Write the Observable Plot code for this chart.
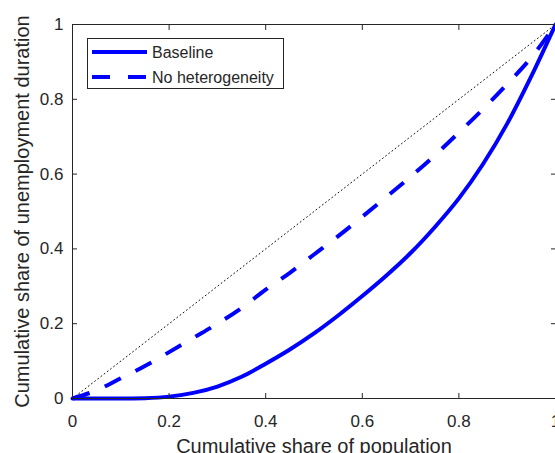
<!DOCTYPE html>
<html>
<head>
<meta charset="utf-8">
<script src="https://cdn.jsdelivr.net/npm/d3@7"></script>
<script src="https://cdn.jsdelivr.net/npm/@observablehq/plot@0.6"></script>
<style>
  body { margin: 0; background: #fff; }
  #wrap { position: relative; width: 555px; height: 453px; overflow: hidden;
          font-family: "Liberation Sans", Arial, Helvetica, sans-serif; }
  #legend { position: absolute; left: 87px; top: 38px; width: 195px; height: 49px;
            border: 1px solid #262626; background: #fff; }
  #legend svg { display: block; }
</style>
</head>
<body>
<div id="wrap"></div>
<script>
// ---- data ----
const population = [0, 0.05, 0.1, 0.15, 0.2, 0.25, 0.3, 0.35, 0.4, 0.45, 0.5,
                    0.55, 0.6, 0.65, 0.7, 0.75, 0.8, 0.85, 0.9, 0.95, 1];
const baseline = [0, 0, 0, 0.001, 0.005, 0.015, 0.032, 0.058, 0.093, 0.131, 0.174,
                  0.222, 0.274, 0.329, 0.389, 0.458, 0.535, 0.627, 0.735, 0.862, 1];
const noHeterogeneity = [0, 0.022, 0.054, 0.087, 0.124, 0.162, 0.2, 0.242, 0.291, 0.336, 0.385,
                         0.434, 0.486, 0.539, 0.593, 0.65, 0.711, 0.774, 0.841, 0.912, 1];
const equality = [0, 1];
const xTicks = [0, 0.2, 0.4, 0.6, 0.8, 1];
const yTicks = [0, 0.2, 0.4, 0.6, 0.8, 1];
const seriesNames = ["Baseline", "No heterogeneity"];
const xLabel = "Cumulative share of population";
const yLabel = "Cumulative share of unemployment duration";

const FONT = '"Liberation Sans", Arial, Helvetica, sans-serif';
const INK = "#262626";
const BLUE = "#0000ff";

const rows = population.map((p, i) => ({p, b: baseline[i], n: noHeterogeneity[i]}));

const chart = Plot.plot({
  width: 555,
  height: 453,
  marginLeft: 72,
  marginRight: 0,
  marginTop: 24,
  marginBottom: 55,
  x: {domain: [0, 1]},
  y: {domain: [0, 1]},
  style: {fontFamily: FONT, color: INK, background: "#fff"},
  marks: [
    Plot.line(equality, {x: d => d, y: d => d, stroke: "#111", strokeWidth: 1, strokeDasharray: "1,3"}),
    Plot.line(rows, {x: "p", y: "n", stroke: BLUE, strokeWidth: 4, strokeDasharray: "18,16.5",
                     strokeLinecap: "butt", curve: "monotone-x"}),
    Plot.line(rows, {x: "p", y: "b", stroke: BLUE, strokeWidth: 4, curve: "monotone-x"}),
    Plot.frame({stroke: INK}),
    Plot.axisX({anchor: "bottom", ticks: xTicks, tickSize: -5, tickPadding: 21, fontSize: 17,
                tickFormat: d => String(d), label: null, stroke: INK, fill: INK}),
    Plot.axisX({anchor: "top", ticks: xTicks, tickSize: -5, tickFormat: () => "", label: null, stroke: INK}),
    Plot.axisY({anchor: "left", ticks: yTicks, tickSize: -5, tickPadding: 14, fontSize: 17,
                tickFormat: d => String(d), label: null, stroke: INK, fill: INK}),
    Plot.axisY({anchor: "right", ticks: yTicks, tickSize: -5, tickFormat: () => "", label: null, stroke: INK}),
    Plot.text([xLabel], {text: d => d, frameAnchor: "bottom", textAnchor: "middle", lineAnchor: "middle",
                         dy: 47.6, fontSize: 20, fill: INK}),
    Plot.text([yLabel], {text: d => d, frameAnchor: "left", textAnchor: "middle", lineAnchor: "middle",
                         rotate: -90, dx: -50.4, fontSize: 20, fill: INK})
  ]
});

const wrap = document.getElementById("wrap");
wrap.appendChild(chart);

// legend box (inside the axes, upper left)
const legend = document.createElement("div");
legend.id = "legend";
const lsvg = d3.create("svg").attr("width", 195).attr("height", 49);
const styles = [null, "18,18"];
seriesNames.forEach((name, i) => {
  const y = 13 + i * 25;
  lsvg.append("line")
    .attr("x1", 4).attr("x2", 59).attr("y1", y).attr("y2", y)
    .attr("stroke", BLUE).attr("stroke-width", 4)
    .attr("stroke-dasharray", styles[i]);
  lsvg.append("text")
    .attr("x", 64).attr("y", y + 6.3)
    .attr("font-family", FONT).attr("font-size", 16).attr("fill", INK)
    .text(name);
});
legend.appendChild(lsvg.node());
wrap.appendChild(legend);
</script>
</body>
</html>
